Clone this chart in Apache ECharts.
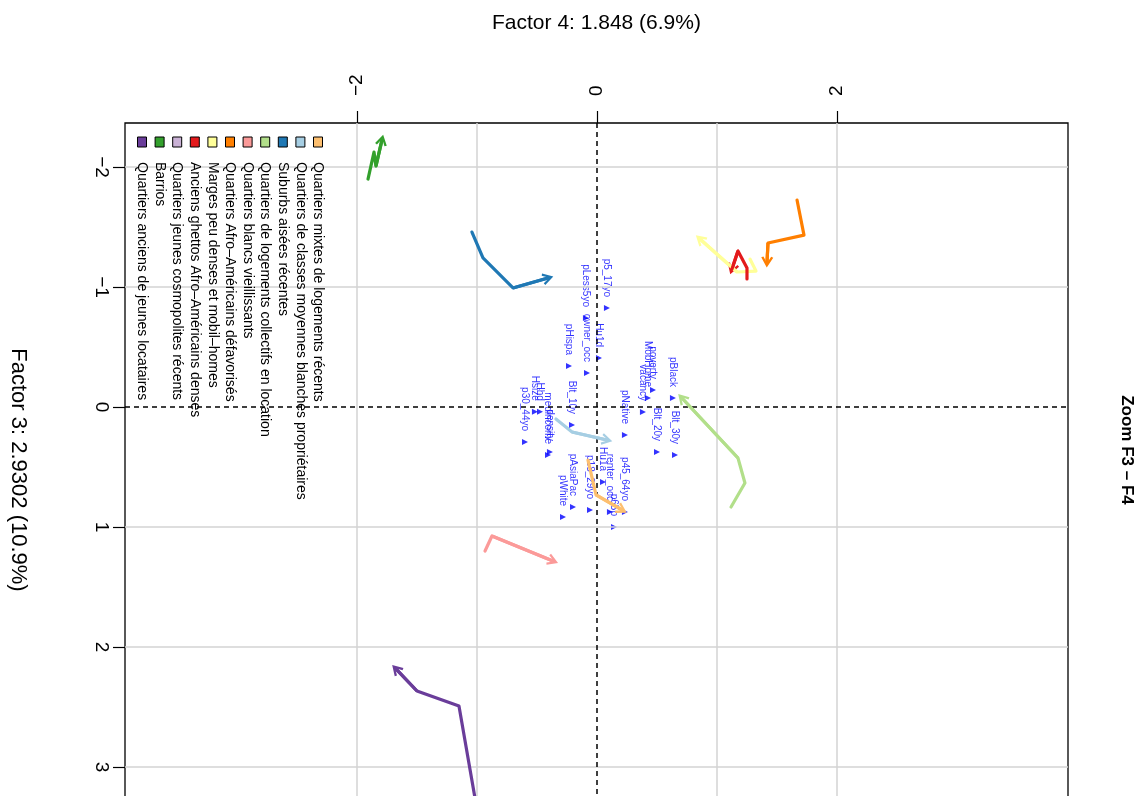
<!DOCTYPE html>
<html><head><meta charset="utf-8">
<script src="https://cdn.jsdelivr.net/npm/echarts@6/dist/echarts.min.js"></script>
<style>html,body{margin:0;padding:0;background:#fff}#c{width:1143px;height:796px}</style>
</head><body><div id="c"></div>
<script>
// ---- Data ----
// Legend groups (order of the original legend: first = rightmost column in picture)
const groupNames = [
  "Quartiers mixtes de logements récents",
  "Quartiers de classes moyennes blanches propriétaires",
  "Suburbs aisées récentes",
  "Quartiers de logements collectifs en location",
  "Quartiers blancs vieillissants",
  "Quartiers Afro–Américains défavorisés",
  "Marges peu denses et mobil–homes",
  "Anciens ghettos Afro–Américains denses",
  "Quartiers jeunes cosmopolites récents",
  "Barrios",
  "Quartiers anciens de jeunes locataires"
];
const groupColors = ["#FDBF6F","#A6CEE3","#1F78B4","#B2DF8A","#FB9A99","#FF7F00","#FFFF99","#E31A1C","#CAB2D6","#33A02C","#6A3D9A"];

// Trajectories as [Factor 4, Factor 3]
const trajMixtes      = [[-0.075,0.442],[-0.008,0.733],[0.208,0.858]];
const trajClassesMoy  = [[-0.342,0.100],[-0.208,0.208],[0.083,0.275]];
const trajSuburbs     = [[-1.042,-1.458],[-0.950,-1.242],[-0.700,-0.992],[-0.408,-1.075]];
const trajCollectifs  = [[1.117,0.833],[1.233,0.633],[1.175,0.425],[0.708,-0.075]];
const trajBlancsVieil = [[-0.933,1.200],[-0.875,1.075],[-0.367,1.283]];
const trajAfroDefav   = [[1.667,-1.725],[1.725,-1.433],[1.425,-1.367],[1.417,-1.208]];
const trajMarges      = [[1.275,-1.233],[1.325,-1.133],[1.167,-1.125],[0.858,-1.400]];
const trajGhettos     = [[1.250,-1.067],[1.250,-1.158],[1.175,-1.300],[1.125,-1.150]];
const trajCosmopol    = [];
const trajBarrios     = [[-1.908,-1.900],[-1.858,-2.125],[-1.842,-2.008],[-1.792,-2.225]];
const trajAnciensLoc  = [[-0.992,3.400],[-1.150,2.492],[-1.500,2.367],[-1.675,2.183]];
const trajectories = [trajMixtes,trajClassesMoy,trajSuburbs,trajCollectifs,trajBlancsVieil,trajAfroDefav,trajMarges,trajGhettos,trajCosmopol,trajBarrios,trajAnciensLoc];

// Variables (blue triangles)
const varNames = ["p5_17yo","pLess5yo","Hu1d","owner_occ","pHispa","pBlack","poverty","MobHome","vacancy","pNative","Blt_20y","Blt_30y","p45_64yo","p65p","Hu1a","renter_occ","p18_29yo","pAsiaPac","pWhite","Blt_10y","medincome","density","Hsize","Hhd","p30_44yo"];
const varF4 = [0.083,-0.092,0.017,-0.083,-0.233,0.633,0.467,0.425,0.383,0.233,0.500,0.650,0.233,0.142,0.050,0.108,-0.058,-0.200,-0.283,-0.208,-0.408,-0.392,-0.517,-0.475,-0.600];
const varF3 = [-0.825,-0.742,-0.408,-0.283,-0.342,-0.075,-0.142,-0.075,0.042,0.233,0.375,0.400,0.875,1.000,0.625,0.875,0.858,0.833,0.917,0.150,0.400,0.375,0.040,0.040,0.292];

// Axis ticks
const f4Ticks = [-2,0,2];
const f3Ticks = [-2,-1,0,1,2,3];
const f4Grid = [-2,-1,1,2];
const f3Grid = [-2,-1,1,2,3];

// ---- Chart ----
const FONT = "Liberation Sans, Arial, Helvetica, sans-serif";
const chart = echarts.init(document.getElementById('c'));
const fmt = v => v < 0 ? '\u2212' + (-v) : String(v);
const chevron = 'path://M0,10 L5,0 L10,10 L8.2,11 L5,4.2 L1.8,11 Z';

const series = [];
series.push({
  type: 'line', data: [], silent: true, z: 1,
  markLine: {
    silent: true, symbol: ['none','none'], label: {show: false},
    lineStyle: {color: '#d3d3d3', width: 1.5, type: 'solid'},
    data: f4Grid.map(v => ({xAxis: v})).concat(f3Grid.map(v => ({yAxis: v})))
  }
});
series.push({
  type: 'line', data: [], silent: true, z: 2,
  markLine: {
    silent: true, symbol: ['none','none'], label: {show: false},
    lineStyle: {color: '#000', width: 1.5, type: [5,4]},
    data: [{xAxis: 0}, {yAxis: 0}]
  }
});
series.push({
  type: 'scatter', z: 3, symbol: 'triangle', symbolSize: 6, symbolRotate: -90,
  itemStyle: {color: '#0000FF'},
  label: {show: true, position: 'top', distance: 8, rotate: -90, align: 'right', verticalAlign: 'middle',
    color: '#0000FF', fontSize: 10, fontFamily: FONT, formatter: p => p.name},
  labelLayout: {hideOverlap: false},
  data: varNames.map((n, i) => ({name: n, value: [varF4[i], varF3[i]]}))
});
trajectories.forEach((t, i) => {
  if (!t.length) return;
  const a = t[t.length - 2], b = t[t.length - 1];
  series.push({
    type: 'line', name: groupNames[i], z: 5, data: t, symbol: 'none', silent: true,
    lineStyle: {color: groupColors[i], width: 3.2, cap: 'round', join: 'round'},
    markLine: {
      silent: true, symbol: ['none', chevron], symbolSize: [12, 11],
      label: {show: false},
      lineStyle: {color: groupColors[i], width: 3.2, type: 'solid'},
      itemStyle: {color: groupColors[i]},
      data: [[{coord: a}, {coord: b}]]
    }
  });
});

// legend graphic
const graphics = [];
groupNames.forEach((n, i) => {
  const x = 318 - i * 17.6;
  graphics.push({type: 'rect', shape: {x: x - 4.5, y: 137, width: 9, height: 10},
    style: {fill: groupColors[i], stroke: '#000', lineWidth: 1}, z: 10});
  graphics.push({type: 'text', x: x, y: 162, rotation: -Math.PI / 2,
    style: {text: n, font: '14px ' + FONT, fill: '#000', align: 'left', verticalAlign: 'middle'}, z: 10});
});
graphics.push({type: 'text', x: 1127, y: 450, rotation: -Math.PI / 2,
  style: {text: 'Zoom F3 \u2013 F4', font: 'bold 17px ' + FONT, fill: '#000', align: 'center', verticalAlign: 'middle'}});

chart.setOption({
  animation: false,
  backgroundColor: '#fff',
  textStyle: {fontFamily: FONT},
  grid: {left: 125, top: 123, width: 943, height: 694, outerBoundsMode: 'none', containLabel: false,
    show: true, borderColor: '#000', borderWidth: 1.3, backgroundColor: 'transparent'},
  xAxis: {
    type: 'value', position: 'top', min: -3.933, max: 3.925,
    name: 'Factor 4: 1.848 (6.9%)', nameLocation: 'middle', nameGap: 89,
    nameTextStyle: {fontSize: 21, color: '#000', fontFamily: FONT},
    axisLine: {show: false, onZero: false}, splitLine: {show: false},
    axisTick: {show: true, inside: false, length: 12, customValues: f4Ticks, lineStyle: {color: '#000', width: 1.2}},
    axisLabel: {customValues: f4Ticks, rotate: -90, margin: 27, fontSize: 19, color: '#000', formatter: fmt}
  },
  yAxis: {
    type: 'value', inverse: true, min: -2.367, max: 3.417,
    name: 'Factor 3: 2.9302 (10.9%)', nameLocation: 'middle', nameGap: 96, nameRotate: -90,
    nameTextStyle: {fontSize: 22, color: '#000', fontFamily: FONT},
    axisLine: {show: false, onZero: false}, splitLine: {show: false},
    axisTick: {show: true, inside: false, length: 12, customValues: f3Ticks, lineStyle: {color: '#000', width: 1.2}},
    axisLabel: {customValues: f3Ticks, rotate: -90, margin: 14, fontSize: 19, color: '#000', formatter: fmt}
  },
  graphic: graphics,
  series: series
});
</script></body></html>
